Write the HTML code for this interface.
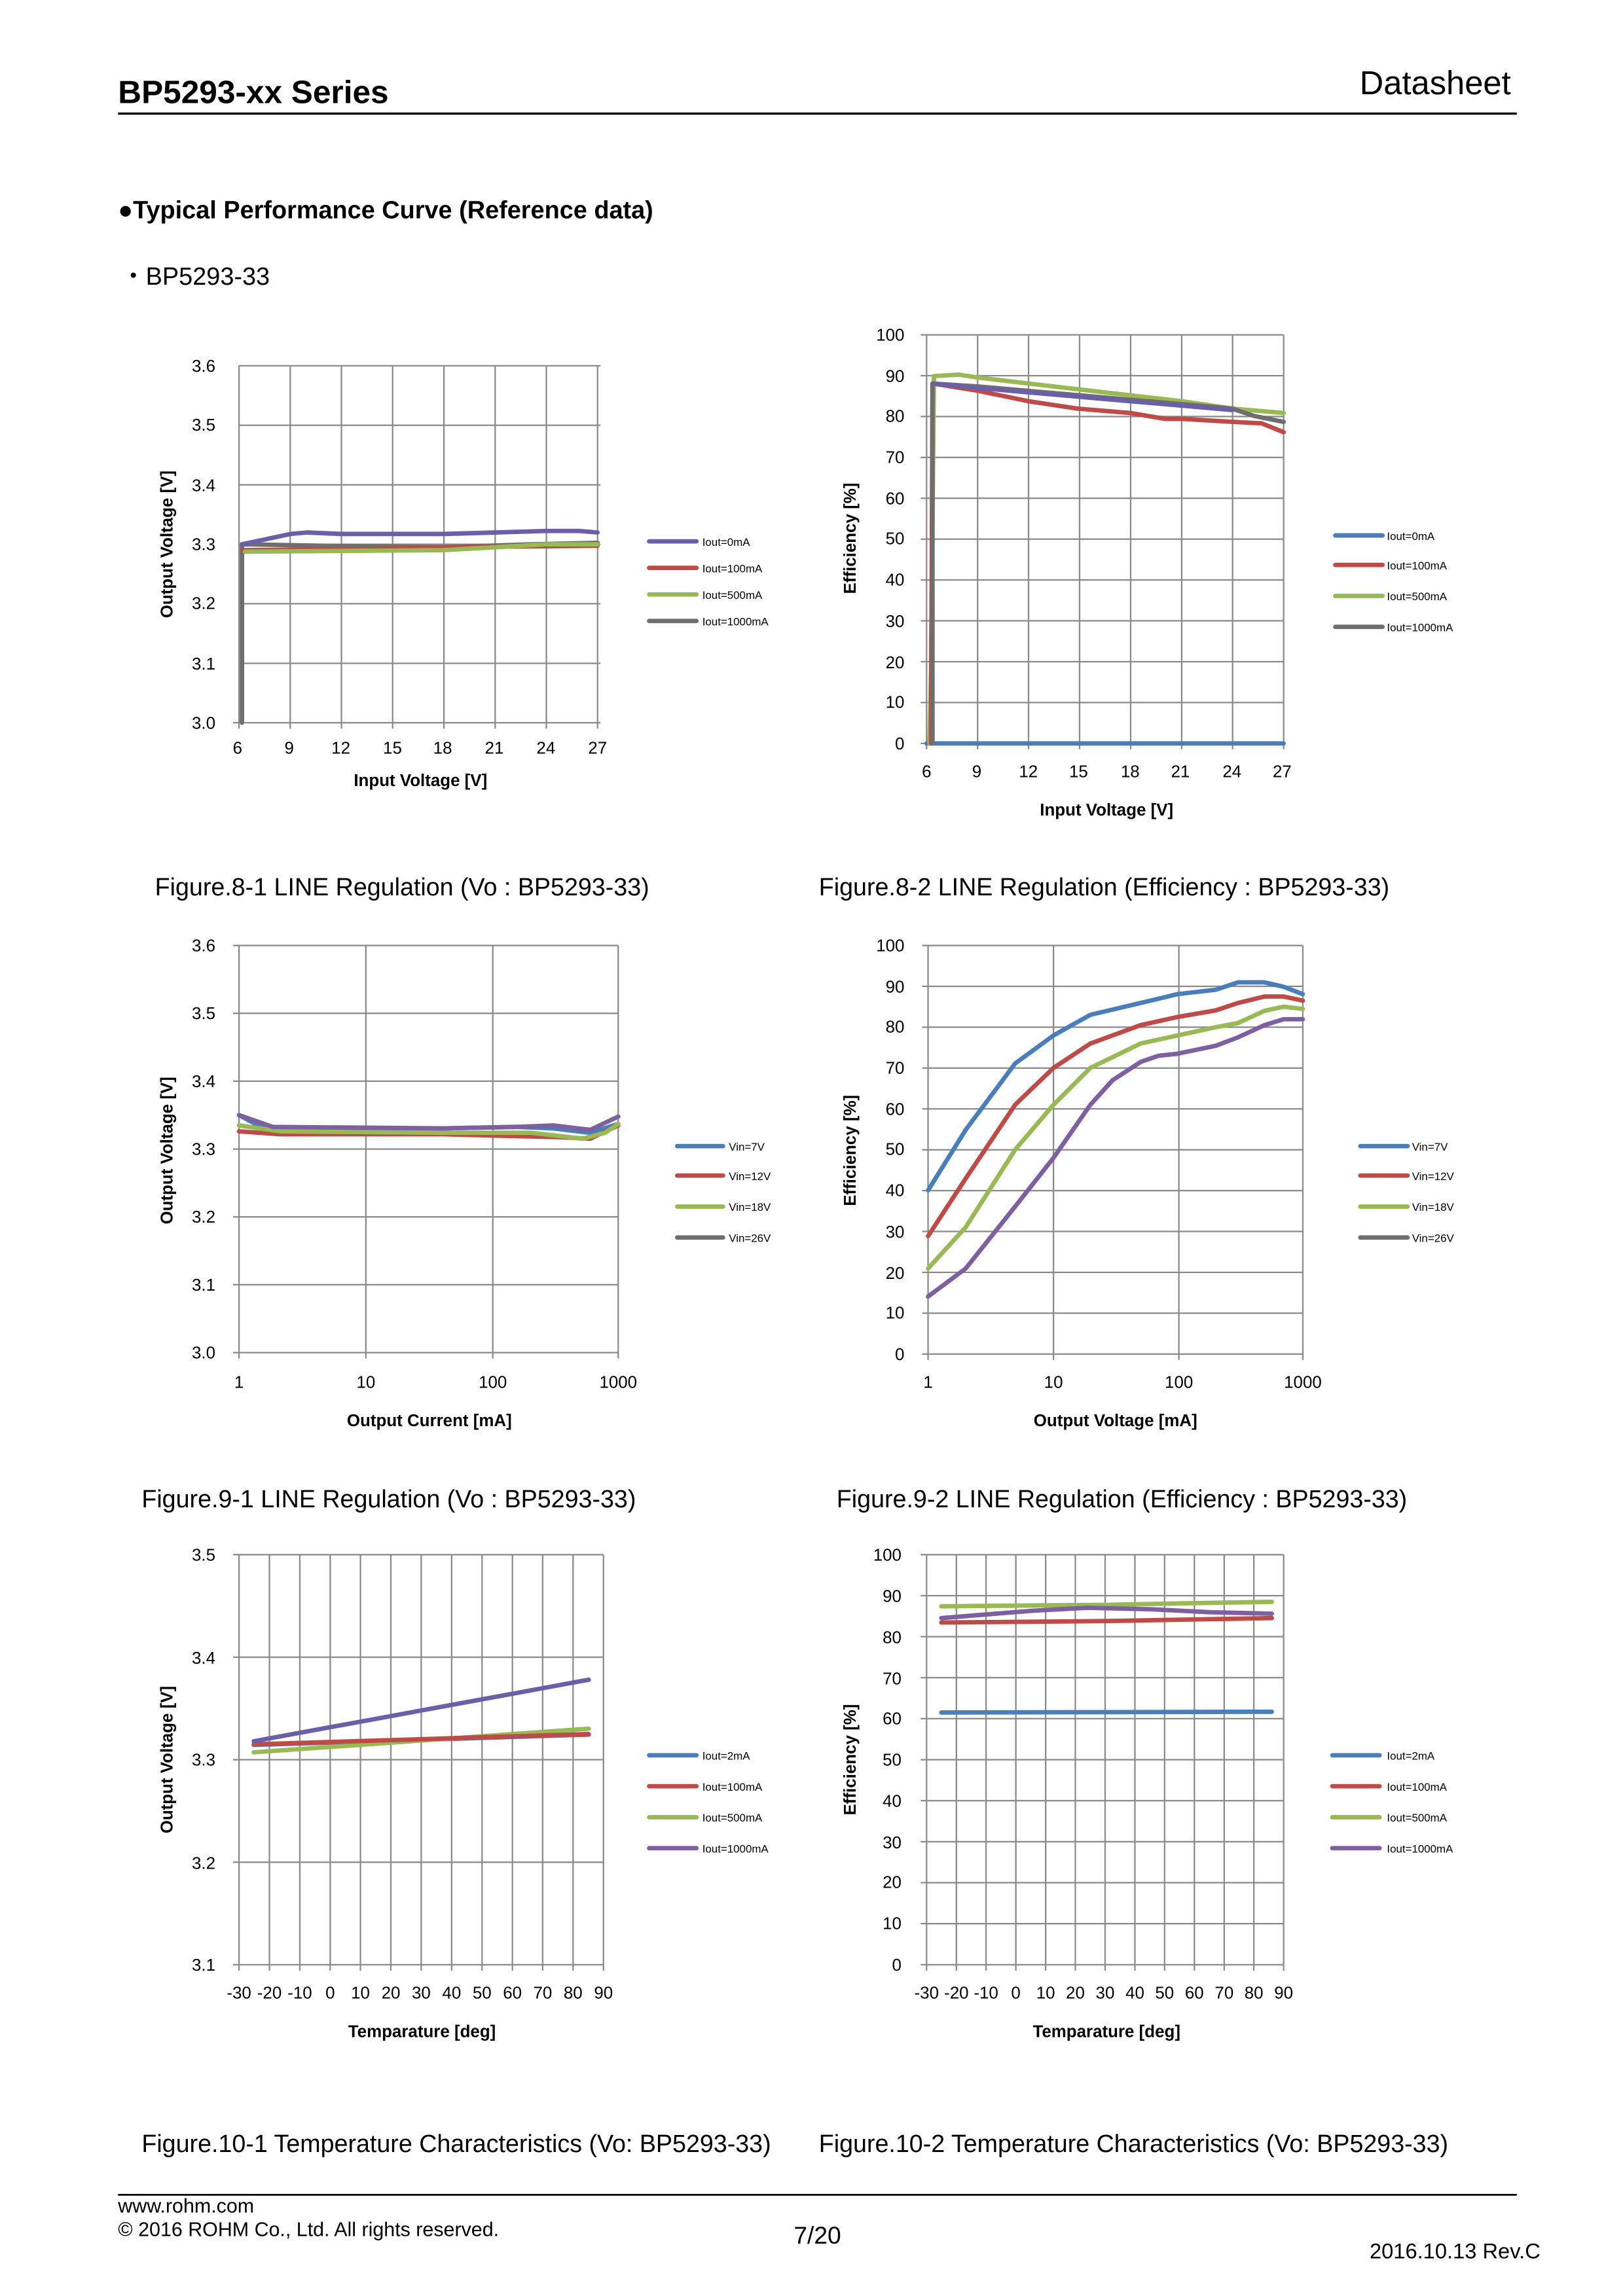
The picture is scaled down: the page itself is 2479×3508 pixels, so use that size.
<!DOCTYPE html>
<html><head><meta charset="utf-8"><style>
html,body{margin:0;padding:0;background:#fff}
svg{display:block}
text{font-family:"Liberation Sans",Arial,sans-serif;fill:#000}
.t{font-size:11.5px}
.ax{font-size:11.5px;font-weight:bold}
.lg{font-size:7.5px}
.cap{font-size:16.7px}
.g{stroke:#8a8a8a;stroke-width:1;fill:none}
.s{fill:none;stroke-width:3;stroke-linejoin:round;stroke-linecap:round}
</style></head><body>
<svg width="2479" height="3508" viewBox="0 0 1100 1556.6" preserveAspectRatio="none" xmlns="http://www.w3.org/2000/svg">
<rect width="1100" height="1556.6" fill="#fff"/>
<!-- header -->
<text x="80" y="70" style="font-size:22px;font-weight:bold">BP5293-xx Series</text>
<text x="1024" y="64" text-anchor="end" style="font-size:22.5px">Datasheet</text>
<line x1="80" y1="77" x2="1028" y2="77" stroke="#000" stroke-width="1.5"/>
<text x="80" y="148" style="font-size:16.8px;font-weight:bold">●Typical Performance Curve (Reference data)</text>
<text x="82" y="193" style="font-size:16.8px">・BP5293-33</text>

<!-- Chart 1 -->
<g>
<g class="g">
<line x1="162" y1="248" x2="407" y2="248"/><line x1="162" y1="288.3" x2="407" y2="288.3"/><line x1="162" y1="328.7" x2="407" y2="328.7"/><line x1="162" y1="369" x2="407" y2="369"/><line x1="162" y1="409.3" x2="407" y2="409.3"/><line x1="162" y1="449.7" x2="407" y2="449.7"/><line x1="158" y1="490" x2="407" y2="490"/>
<line x1="162" y1="248" x2="162" y2="494"/><line x1="196.7" y1="248" x2="196.7" y2="494"/><line x1="231.4" y1="248" x2="231.4" y2="494"/><line x1="266.1" y1="248" x2="266.1" y2="494"/><line x1="300.9" y1="248" x2="300.9" y2="494"/><line x1="335.6" y1="248" x2="335.6" y2="494"/><line x1="370.3" y1="248" x2="370.3" y2="494"/><line x1="405" y1="248" x2="405" y2="494"/>
</g>
<g class="t" text-anchor="end"><text x="146" y="252">3.6</text><text x="146" y="292">3.5</text><text x="146" y="333">3.4</text><text x="146" y="373">3.3</text><text x="146" y="413">3.2</text><text x="146" y="454">3.1</text><text x="146" y="494">3.0</text></g>
<g class="t" text-anchor="middle"><text x="161" y="511">6</text><text x="196" y="511">9</text><text x="231" y="511">12</text><text x="266" y="511">15</text><text x="300" y="511">18</text><text x="335" y="511">21</text><text x="370" y="511">24</text><text x="405" y="511">27</text></g>
<text class="ax" x="285" y="533" text-anchor="middle">Input Voltage [V]</text>
<text class="ax" transform="translate(117,369) rotate(-90)" text-anchor="middle">Output Voltage [V]</text>
<polyline class="s" stroke="#6e6e6e" stroke-width="4" points="164,490 164,369 220,370 300,371 360,369 405,368"/>
<polyline class="s" stroke="#be4b48" points="164,373 250,372 300,371 405,370"/>
<polyline class="s" stroke="#98b954" points="166,374 300,373 336,371 370,369 405,369"/>
<polyline class="s" stroke="#6a5fa8" points="164,369 197,362 208,361 231,362 301,362 336,361 370,360 393,360 405,361"/>
<g class="s"><line x1="440" y1="367" x2="472" y2="367" stroke="#6a5fa8"/><line x1="440" y1="385" x2="472" y2="385" stroke="#be4b48"/><line x1="440" y1="403" x2="472" y2="403" stroke="#98b954"/><line x1="440" y1="421" x2="472" y2="421" stroke="#6e6e6e"/></g>
<g class="lg"><text x="476" y="370">Iout=0mA</text><text x="476" y="388">Iout=100mA</text><text x="476" y="406">Iout=500mA</text><text x="476" y="424">Iout=1000mA</text></g>
</g>

<!-- Chart 2 -->
<g>
<g class="g">
<line x1="624" y1="227" x2="870" y2="227"/><line x1="624" y1="254.7" x2="870" y2="254.7"/><line x1="624" y1="282.4" x2="870" y2="282.4"/><line x1="624" y1="310.1" x2="870" y2="310.1"/><line x1="624" y1="337.8" x2="870" y2="337.8"/><line x1="624" y1="365.5" x2="870" y2="365.5"/><line x1="624" y1="393.2" x2="870" y2="393.2"/><line x1="624" y1="420.9" x2="870" y2="420.9"/><line x1="624" y1="448.6" x2="870" y2="448.6"/><line x1="624" y1="476.3" x2="870" y2="476.3"/><line x1="624" y1="504" x2="870" y2="504"/>
<line x1="628" y1="227" x2="628" y2="508"/><line x1="662.6" y1="227" x2="662.6" y2="508"/><line x1="697.1" y1="227" x2="697.1" y2="508"/><line x1="731.7" y1="227" x2="731.7" y2="508"/><line x1="766.3" y1="227" x2="766.3" y2="508"/><line x1="800.9" y1="227" x2="800.9" y2="508"/><line x1="835.4" y1="227" x2="835.4" y2="508"/><line x1="870" y1="227" x2="870" y2="508"/>
</g>
<g class="t" text-anchor="end"><text x="613" y="231">100</text><text x="613" y="259">90</text><text x="613" y="286">80</text><text x="613" y="314">70</text><text x="613" y="342">60</text><text x="613" y="369">50</text><text x="613" y="397">40</text><text x="613" y="425">30</text><text x="613" y="453">20</text><text x="613" y="480">10</text><text x="613" y="508">0</text></g>
<g class="t" text-anchor="middle"><text x="628" y="527">6</text><text x="662" y="527">9</text><text x="697" y="527">12</text><text x="731" y="527">15</text><text x="766" y="527">18</text><text x="800" y="527">21</text><text x="835" y="527">24</text><text x="869" y="527">27</text></g>
<text class="ax" x="750" y="553" text-anchor="middle">Input Voltage [V]</text>
<text class="ax" transform="translate(580,365) rotate(-90)" text-anchor="middle">Efficiency [%]</text>
<polyline class="s" stroke="#4a7ebb" points="628,504 870,504"/>
<polyline class="s" stroke="#98b954" points="630,504 631,455 633,255 650,254 663,256 697,260 766,268 801,272 835,277 870,280"/>
<polyline class="s" stroke="#be4b48" points="631,504 632,260 663,265 697,272 730,277 766,280 790,284 801,284 835,286 855,287 870,293"/>
<polyline class="s" stroke="#6e6e6e" stroke-width="4" points="632,504 632,260 663,262 697,265 766,271 801,274 835,277 850,282 870,286"/>
<polyline class="s" stroke="#6a5fa8" stroke-width="2" points="633,260 663,263 697,266 766,272 801,275 835,278"/>
<g class="s"><line x1="905" y1="363" x2="937" y2="363" stroke="#4a7ebb"/><line x1="905" y1="383" x2="937" y2="383" stroke="#be4b48"/><line x1="905" y1="404" x2="937" y2="404" stroke="#98b954"/><line x1="905" y1="425" x2="937" y2="425" stroke="#6e6e6e"/></g>
<g class="lg"><text x="940" y="366">Iout=0mA</text><text x="940" y="386">Iout=100mA</text><text x="940" y="407">Iout=500mA</text><text x="940" y="428">Iout=1000mA</text></g>
</g>

<text class="cap" x="105" y="607">Figure.8-1 LINE Regulation (Vo : BP5293-33)</text>
<text class="cap" x="555" y="607">Figure.8-2 LINE Regulation (Efficiency : BP5293-33)</text>

<!-- Chart 3 -->
<g>
<g class="g">
<line x1="158" y1="641" x2="419" y2="641"/><line x1="158" y1="687" x2="419" y2="687"/><line x1="158" y1="733" x2="419" y2="733"/><line x1="158" y1="779" x2="419" y2="779"/><line x1="158" y1="825" x2="419" y2="825"/><line x1="158" y1="871" x2="419" y2="871"/><line x1="158" y1="917" x2="419" y2="917"/>
<line x1="162" y1="641" x2="162" y2="921"/><line x1="248" y1="641" x2="248" y2="921"/><line x1="334" y1="641" x2="334" y2="921"/><line x1="419" y1="641" x2="419" y2="921"/>
</g>
<g class="t" text-anchor="end"><text x="146" y="645">3.6</text><text x="146" y="691">3.5</text><text x="146" y="737">3.4</text><text x="146" y="783">3.3</text><text x="146" y="829">3.2</text><text x="146" y="875">3.1</text><text x="146" y="921">3.0</text></g>
<g class="t" text-anchor="middle"><text x="162" y="941">1</text><text x="248" y="941">10</text><text x="334" y="941">100</text><text x="419" y="941">1000</text></g>
<text class="ax" x="291" y="967" text-anchor="middle">Output Current [mA]</text>
<text class="ax" transform="translate(117,780) rotate(-90)" text-anchor="middle">Output Voltage [V]</text>
<polyline class="s" stroke="#4a7ebb" points="162,756 175,763 190,765 300,765 350,764 375,765 400,768 419,762"/>
<polyline class="s" stroke="#be4b48" points="162,767 190,769 300,769 380,771 400,772 419,763"/>
<polyline class="s" stroke="#98b954" points="162,763 190,767 300,768 360,768 395,772 410,768 419,762"/>
<polyline class="s" stroke="#7d60a0" points="162,756 185,764 300,765 350,764 375,763 400,766 419,757"/>
<g class="s"><line x1="459" y1="777" x2="490" y2="777" stroke="#4a7ebb"/><line x1="459" y1="797" x2="490" y2="797" stroke="#be4b48"/><line x1="459" y1="818" x2="490" y2="818" stroke="#98b954"/><line x1="459" y1="839" x2="490" y2="839" stroke="#6e6e6e"/></g>
<g class="lg"><text x="494" y="780">Vin=7V</text><text x="494" y="800">Vin=12V</text><text x="494" y="821">Vin=18V</text><text x="494" y="842">Vin=26V</text></g>
</g>

<!-- Chart 4 -->
<g>
<g class="g">
<line x1="625" y1="641" x2="883" y2="641"/><line x1="625" y1="668.7" x2="883" y2="668.7"/><line x1="625" y1="696.4" x2="883" y2="696.4"/><line x1="625" y1="724.1" x2="883" y2="724.1"/><line x1="625" y1="751.8" x2="883" y2="751.8"/><line x1="625" y1="779.5" x2="883" y2="779.5"/><line x1="625" y1="807.2" x2="883" y2="807.2"/><line x1="625" y1="834.9" x2="883" y2="834.9"/><line x1="625" y1="862.6" x2="883" y2="862.6"/><line x1="625" y1="890.3" x2="883" y2="890.3"/><line x1="625" y1="918" x2="883" y2="918"/>
<line x1="629" y1="641" x2="629" y2="922"/><line x1="714" y1="641" x2="714" y2="922"/><line x1="799" y1="641" x2="799" y2="922"/><line x1="883" y1="641" x2="883" y2="922"/>
</g>
<g class="t" text-anchor="end"><text x="613" y="645">100</text><text x="613" y="673">90</text><text x="613" y="700">80</text><text x="613" y="728">70</text><text x="613" y="756">60</text><text x="613" y="783">50</text><text x="613" y="811">40</text><text x="613" y="839">30</text><text x="613" y="867">20</text><text x="613" y="894">10</text><text x="613" y="922">0</text></g>
<g class="t" text-anchor="middle"><text x="629" y="941">1</text><text x="714" y="941">10</text><text x="799" y="941">100</text><text x="883" y="941">1000</text></g>
<text class="ax" x="756" y="967" text-anchor="middle">Output Voltage [mA]</text>
<text class="ax" transform="translate(580,780) rotate(-90)" text-anchor="middle">Efficiency [%]</text>
<polyline class="s" stroke="#4a7ebb" points="629,807 654.5,766 688,721 714,702 739,688 773,680 798,674 824,671 839,666 857,666 870,669 883,674"/>
<polyline class="s" stroke="#be4b48" points="629,838 654.5,799 688,749 714,724 739,707.5 773,695 798,689.5 824,685 839,680 857,675.6 870,675.6 883,678.4"/>
<polyline class="s" stroke="#98b954" points="629,860 654.5,832 688,779.5 714,749 739,724 773,707.5 798,702 824,696.4 839,693.6 857,685.3 870,682.5 883,684"/>
<polyline class="s" stroke="#7d60a0" points="629,879 654.5,860 688,818 714,785 739,749 754,732.4 773,720 785,715.8 798,714.4 824,709 839,703.3 857,695 870,691 883,691"/>
<g class="s"><line x1="922" y1="777" x2="954" y2="777" stroke="#4a7ebb"/><line x1="922" y1="797" x2="954" y2="797" stroke="#be4b48"/><line x1="922" y1="818" x2="954" y2="818" stroke="#98b954"/><line x1="922" y1="839" x2="954" y2="839" stroke="#6e6e6e"/></g>
<g class="lg"><text x="957" y="780">Vin=7V</text><text x="957" y="800">Vin=12V</text><text x="957" y="821">Vin=18V</text><text x="957" y="842">Vin=26V</text></g>
</g>

<text class="cap" x="96" y="1022">Figure.9-1 LINE Regulation (Vo : BP5293-33)</text>
<text class="cap" x="567" y="1022">Figure.9-2 LINE Regulation (Efficiency : BP5293-33)</text>

<!-- Chart 5 -->
<g>
<g class="g">
<line x1="158" y1="1054" x2="409" y2="1054"/><line x1="158" y1="1123.5" x2="409" y2="1123.5"/><line x1="158" y1="1193" x2="409" y2="1193"/><line x1="158" y1="1262.5" x2="409" y2="1262.5"/><line x1="158" y1="1332" x2="409" y2="1332"/>
<line x1="162" y1="1054" x2="162" y2="1336"/><line x1="182.6" y1="1054" x2="182.6" y2="1336"/><line x1="203.2" y1="1054" x2="203.2" y2="1336"/><line x1="223.8" y1="1054" x2="223.8" y2="1336"/><line x1="244.3" y1="1054" x2="244.3" y2="1336"/><line x1="264.9" y1="1054" x2="264.9" y2="1336"/><line x1="285.5" y1="1054" x2="285.5" y2="1336"/><line x1="306.1" y1="1054" x2="306.1" y2="1336"/><line x1="326.7" y1="1054" x2="326.7" y2="1336"/><line x1="347.3" y1="1054" x2="347.3" y2="1336"/><line x1="367.8" y1="1054" x2="367.8" y2="1336"/><line x1="388.4" y1="1054" x2="388.4" y2="1336"/><line x1="409" y1="1054" x2="409" y2="1336"/>
</g>
<g class="t" text-anchor="end"><text x="146" y="1058">3.5</text><text x="146" y="1128">3.4</text><text x="146" y="1197">3.3</text><text x="146" y="1267">3.2</text><text x="146" y="1336">3.1</text></g>
<g class="t" text-anchor="middle"><text x="162" y="1355">-30</text><text x="182.6" y="1355">-20</text><text x="203.2" y="1355">-10</text><text x="223.8" y="1355">0</text><text x="244.3" y="1355">10</text><text x="264.9" y="1355">20</text><text x="285.5" y="1355">30</text><text x="306.1" y="1355">40</text><text x="326.7" y="1355">50</text><text x="347.3" y="1355">60</text><text x="367.8" y="1355">70</text><text x="388.4" y="1355">80</text><text x="409" y="1355">90</text></g>
<text class="ax" x="286" y="1381" text-anchor="middle">Temparature [deg]</text>
<text class="ax" transform="translate(117,1193) rotate(-90)" text-anchor="middle">Output Voltage [V]</text>
<polyline class="s" stroke="#4a7ebb" points="172,1183 399,1176"/>
<polyline class="s" stroke="#98b954" points="172,1188 399,1172"/>
<polyline class="s" stroke="#be4b48" points="172,1182.6 399,1175.6"/>
<polyline class="s" stroke="#6a5fa8" points="172,1180.5 399,1138.8"/>
<g class="s"><line x1="440" y1="1190" x2="472" y2="1190" stroke="#4a7ebb"/><line x1="440" y1="1211" x2="472" y2="1211" stroke="#be4b48"/><line x1="440" y1="1232" x2="472" y2="1232" stroke="#98b954"/><line x1="440" y1="1253" x2="472" y2="1253" stroke="#7d60a0"/></g>
<g class="lg"><text x="476" y="1193">Iout=2mA</text><text x="476" y="1214">Iout=100mA</text><text x="476" y="1235">Iout=500mA</text><text x="476" y="1256">Iout=1000mA</text></g>
</g>

<!-- Chart 6 -->
<g>
<g class="g">
<line x1="624" y1="1054" x2="870" y2="1054"/><line x1="624" y1="1081.8" x2="870" y2="1081.8"/><line x1="624" y1="1109.6" x2="870" y2="1109.6"/><line x1="624" y1="1137.4" x2="870" y2="1137.4"/><line x1="624" y1="1165.2" x2="870" y2="1165.2"/><line x1="624" y1="1193" x2="870" y2="1193"/><line x1="624" y1="1220.8" x2="870" y2="1220.8"/><line x1="624" y1="1248.6" x2="870" y2="1248.6"/><line x1="624" y1="1276.4" x2="870" y2="1276.4"/><line x1="624" y1="1304.2" x2="870" y2="1304.2"/><line x1="624" y1="1332" x2="870" y2="1332"/>
<line x1="628" y1="1054" x2="628" y2="1336"/><line x1="648.2" y1="1054" x2="648.2" y2="1336"/><line x1="668.3" y1="1054" x2="668.3" y2="1336"/><line x1="688.5" y1="1054" x2="688.5" y2="1336"/><line x1="708.7" y1="1054" x2="708.7" y2="1336"/><line x1="728.8" y1="1054" x2="728.8" y2="1336"/><line x1="749" y1="1054" x2="749" y2="1336"/><line x1="769.2" y1="1054" x2="769.2" y2="1336"/><line x1="789.3" y1="1054" x2="789.3" y2="1336"/><line x1="809.5" y1="1054" x2="809.5" y2="1336"/><line x1="829.7" y1="1054" x2="829.7" y2="1336"/><line x1="849.8" y1="1054" x2="849.8" y2="1336"/><line x1="870" y1="1054" x2="870" y2="1336"/>
</g>
<g class="t" text-anchor="end"><text x="611" y="1058">100</text><text x="611" y="1086">90</text><text x="611" y="1114">80</text><text x="611" y="1142">70</text><text x="611" y="1169">60</text><text x="611" y="1197">50</text><text x="611" y="1225">40</text><text x="611" y="1253">30</text><text x="611" y="1280">20</text><text x="611" y="1308">10</text><text x="611" y="1336">0</text></g>
<g class="t" text-anchor="middle"><text x="628" y="1355">-30</text><text x="648.2" y="1355">-20</text><text x="668.3" y="1355">-10</text><text x="688.5" y="1355">0</text><text x="708.7" y="1355">10</text><text x="728.8" y="1355">20</text><text x="749" y="1355">30</text><text x="769.2" y="1355">40</text><text x="789.3" y="1355">50</text><text x="809.5" y="1355">60</text><text x="829.7" y="1355">70</text><text x="849.8" y="1355">80</text><text x="870" y="1355">90</text></g>
<text class="ax" x="750" y="1381" text-anchor="middle">Temparature [deg]</text>
<text class="ax" transform="translate(580,1193) rotate(-90)" text-anchor="middle">Efficiency [%]</text>
<polyline class="s" stroke="#4a7ebb" points="638,1161 862,1160.5"/>
<polyline class="s" stroke="#98b954" points="638,1089 750,1088 800,1087 862,1086"/>
<polyline class="s" stroke="#be4b48" points="638,1100 750,1099 862,1097"/>
<polyline class="s" stroke="#7d60a0" points="638,1097 700,1092 737,1090 780,1091 820,1093 862,1094"/>
<g class="s"><line x1="903" y1="1190" x2="935" y2="1190" stroke="#4a7ebb"/><line x1="903" y1="1211" x2="935" y2="1211" stroke="#be4b48"/><line x1="903" y1="1232" x2="935" y2="1232" stroke="#98b954"/><line x1="903" y1="1253" x2="935" y2="1253" stroke="#7d60a0"/></g>
<g class="lg"><text x="940" y="1193">Iout=2mA</text><text x="940" y="1214">Iout=100mA</text><text x="940" y="1235">Iout=500mA</text><text x="940" y="1256">Iout=1000mA</text></g>
</g>

<text class="cap" x="96" y="1459">Figure.10-1 Temperature Characteristics (Vo: BP5293-33)</text>
<text class="cap" x="555" y="1459">Figure.10-2 Temperature Characteristics (Vo: BP5293-33)</text>

<!-- footer -->
<line x1="80" y1="1488" x2="1028" y2="1488" stroke="#000" stroke-width="1.2"/>
<text x="80" y="1500" style="font-size:13.5px">www.rohm.com</text>
<text x="80" y="1516" style="font-size:13.5px">© 2016 ROHM Co., Ltd. All rights reserved.</text>
<text x="554" y="1521" text-anchor="middle" style="font-size:16.5px">7/20</text>
<text x="1044" y="1531" text-anchor="end" style="font-size:14.5px">2016.10.13 Rev.C</text>
</svg>
</body></html>
